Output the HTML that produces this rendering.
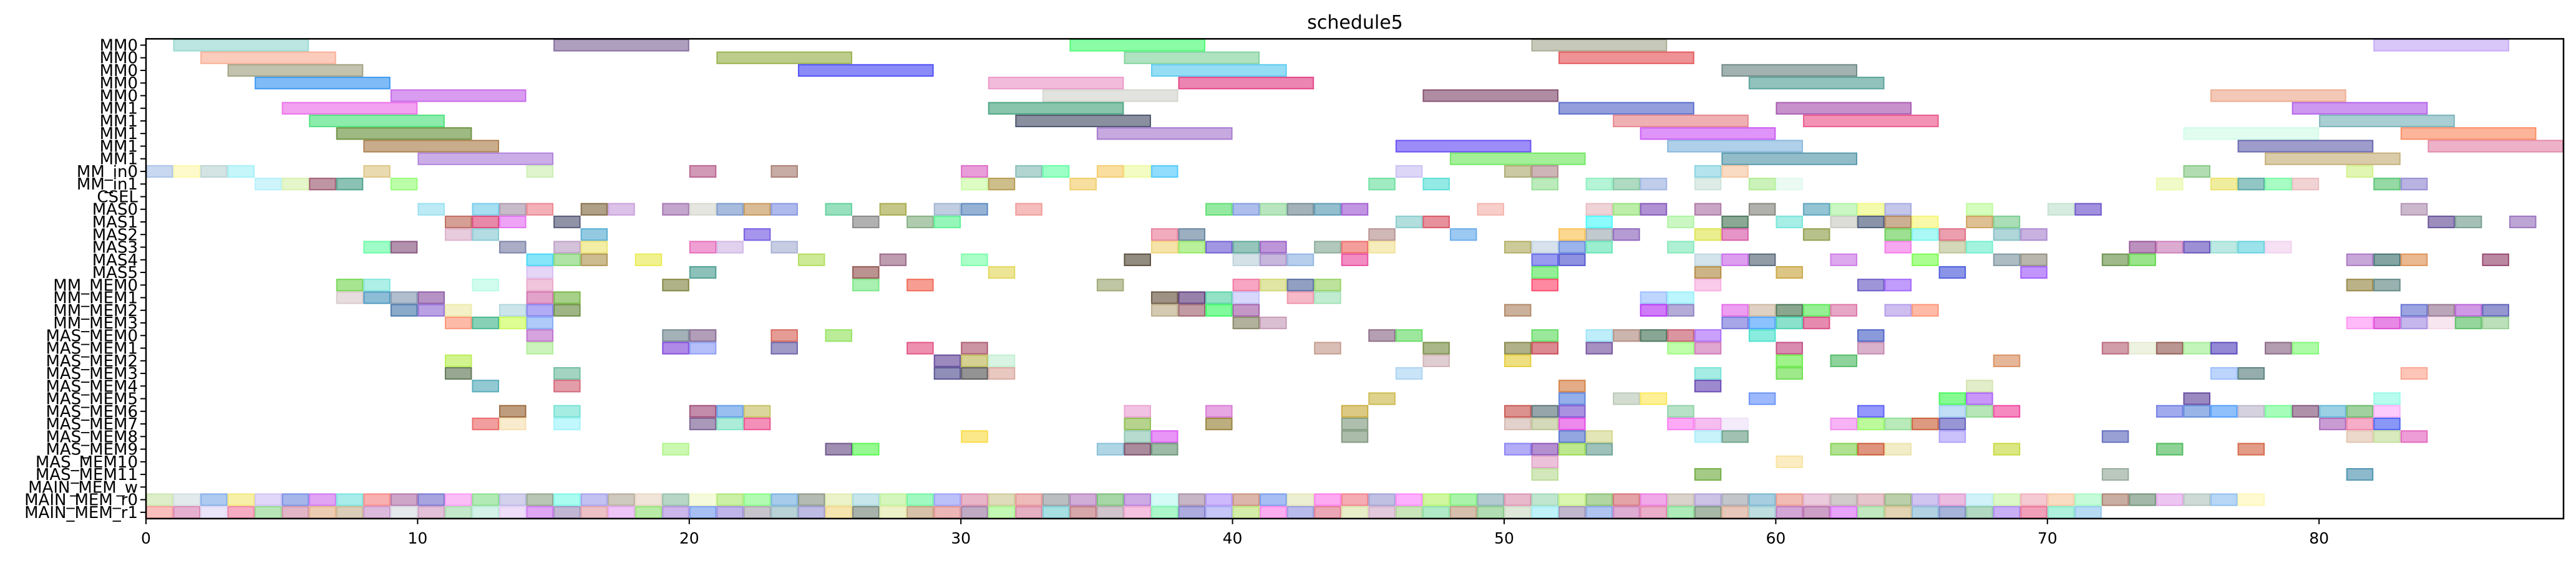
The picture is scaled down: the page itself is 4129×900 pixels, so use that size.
<!DOCTYPE html>
<html><head><meta charset="utf-8"><title>schedule5</title>
<style>html,body{margin:0;padding:0;background:#fff}svg{display:block}</style></head>
<body>
<svg id="chart" xmlns="http://www.w3.org/2000/svg" width="4129" height="900" viewBox="0 0 4129 900" font-family="DejaVu Sans, Liberation Sans, sans-serif">
<rect width="4129" height="900" fill="#fff"/>
<text x="2172" y="46" font-size="30" text-anchor="middle">schedule5</text>
<g id="bars"></g>
<g id="yaxis"></g>
<g id="xaxis"></g>
<rect x="234" y="62.3" width="3875" height="769.7" fill="none" stroke="#000" stroke-width="2.5"/>
</svg>
<script>
const rowLabels = ["MM0","MM0","MM0","MM0","MM0","MM1","MM1","MM1","MM1","MM1","MM_in0","MM_in1","CSEL","MAS0","MAS1","MAS2","MAS3","MAS4","MAS5","MM_MEM0","MM_MEM1","MM_MEM2","MM_MEM3","MAS_MEM0","MAS_MEM1","MAS_MEM2","MAS_MEM3","MAS_MEM4","MAS_MEM5","MAS_MEM6","MAS_MEM7","MAS_MEM8","MAS_MEM9","MAS_MEM10","MAS_MEM11","MAIN_MEM_w","MAIN_MEM_r0","MAIN_MEM_r1"];
const xTicks = [0,10,20,30,40,50,60,70,80];
const xMax = 89;
// long tasks: [row, start, end, color]
const longTasks = [
[0,1,6,'#8fd6cf'],[0,15,20,'#7a5f94'],[0,34,39,'#3dfb6b'],[0,51,56,'#a0a48a'],[0,82,87,'#c1a2f5'],
[1,2,7,'#f9a98e'],[1,21,26,'#8fab3e'],[1,36,41,'#79cf96'],[1,52,57,'#e24a4f'],
[2,3,8,'#9a9a78'],[2,24,29,'#3d3ef4'],[2,37,42,'#4fc7ef'],[2,58,63,'#637f7b'],
[3,4,9,'#2a8ef0'],[3,31,36,'#e98ec3'],[3,38,43,'#e0337d'],[3,59,64,'#4a9a90'],
[4,9,14,'#c25ae8'],[4,33,38,'#cfd0c8'],[4,47,52,'#7a3f64'],[4,76,81,'#eba386'],
[5,5,10,'#ea63e6'],[5,31,36,'#3a9d77'],[5,52,57,'#4b5fc5'],[5,60,65,'#a14aaa'],[5,79,84,'#ac53e6'],
[6,6,11,'#3fe073'],[6,32,37,'#3b445f'],[6,54,59,'#e57b82'],[6,61,66,'#e94a83'],[6,80,85,'#6fadb5'],
[7,7,12,'#5f8a30'],[7,35,40,'#9f6fca'],[7,55,60,'#c84cf3'],[7,75,80,'#cdfbe6'],[7,83,88,'#fa8356'],
[8,8,13,'#a57440'],[8,46,51,'#5a3ff4'],[8,56,61,'#7cb0db'],[8,77,82,'#5c5aa8'],[8,84,89,'#e17ea3'],
[9,10,15,'#a977d9'],[9,48,53,'#65e655'],[9,58,63,'#4a8fa3'],[9,78,83,'#c1a970']
];
// unit tasks per row: [start, color], duration 1
const unitRows = {
10:[[0,'#a3bee6'],[1,'#fff7a8'],[2,'#b6d0d0'],[3,'#9ef0f7'],[8,'#dbc27a'],[14,'#c9ecab'],[20,'#b45586'],[23,'#a27369'],[30,'#d95cbf'],[32,'#7bb8b1'],[33,'#5affa0'],[35,'#f5c860'],[36,'#ebfa9b'],[37,'#45c4fb'],[46,'#c7baf2'],[50,'#a6a566'],[51,'#ab8386'],[57,'#80d0e0'],[58,'#f5c299'],[75,'#7dc47d'],[81,'#cdf080']],
11:[[4,'#adeefa'],[5,'#d6f0a8'],[6,'#964e66'],[7,'#3f9a80'],[9,'#8fff6f'],[30,'#c6fb9e'],[31,'#ad9340'],[34,'#f0c95f'],[45,'#62dd99'],[47,'#4ddcd4'],[51,'#8edd8e'],[53,'#84edba'],[54,'#7ac39a'],[55,'#96aee0'],[57,'#c8e0d8'],[59,'#a9eb8a'],[60,'#ddf8ec'],[74,'#e8f9a5'],[76,'#e8e15f'],[77,'#4aa09e'],[78,'#6cfb9c'],[79,'#e7b5b7'],[82,'#4ebf68'],[83,'#8b80cf']],
13:[[10,'#90ddef'],[12,'#6bc8ea'],[13,'#a48ea5'],[14,'#eb7b87'],[16,'#7a6138'],[17,'#c497d9'],[19,'#9c6aab'],[20,'#d3d6cb'],[21,'#6d8fc7'],[22,'#c08f4e'],[23,'#7a8ce0'],[25,'#55cc94'],[27,'#9fa239'],[29,'#98aece'],[30,'#4e7eb9'],[32,'#ee918e'],[39,'#4fdc63'],[40,'#7792df'],[41,'#8ad695'],[42,'#667e8b'],[43,'#4b92ae'],[44,'#9a4fd0'],[49,'#f4ada6'],[53,'#e5b5bc'],[54,'#8fe170'],[55,'#7a49b5'],[57,'#a56b9e'],[59,'#7c7c74'],[61,'#4a9db5'],[62,'#a8f29d'],[63,'#eef875'],[64,'#9ca0dc'],[67,'#b9fc92'],[70,'#bde0cc'],[71,'#6246c7'],[83,'#a988ab']],
14:[[11,'#ba5f50'],[12,'#d83a71'],[13,'#e366f2'],[15,'#464a6b'],[26,'#7d7d7d'],[28,'#7aa878'],[29,'#4ef08a'],[46,'#7fc8c8'],[47,'#d6475a'],[53,'#3ff8fb'],[56,'#a8f29b'],[58,'#3c6e4c'],[60,'#6be3d6'],[62,'#c5c6bb'],[63,'#3c4d70'],[64,'#aa7b4c'],[65,'#f5f570'],[67,'#c9964c'],[68,'#6fc886'],[84,'#5a4290'],[85,'#6b9688'],[87,'#8f68b7']],
15:[[11,'#d8a9c6'],[12,'#80c7d0'],[16,'#4ba7cf'],[22,'#6b4fe0'],[37,'#e87592'],[38,'#5a7a96'],[45,'#b18887'],[48,'#5aa5e8'],[52,'#f9bc45'],[53,'#97a7ad'],[54,'#8459b5'],[57,'#dce344'],[58,'#d54fa3'],[61,'#87983d'],[64,'#5bcb48'],[65,'#72f5f0'],[66,'#dd5f78'],[68,'#7bbbc0'],[69,'#a57fcb']],
16:[[8,'#5dfca0'],[9,'#7e4776'],[13,'#7177a0'],[15,'#b798c2'],[16,'#ebe369'],[20,'#e45fb5'],[21,'#cdb0e2'],[23,'#a0aacf'],[37,'#efd070'],[38,'#8be656'],[39,'#6350cf'],[40,'#4f9e8d'],[41,'#9150c0'],[43,'#7fa38f'],[44,'#ec5d5a'],[45,'#f0e090'],[50,'#aba656'],[51,'#bccfe0'],[52,'#5a80dd'],[53,'#59e3b1'],[56,'#78e6b4'],[64,'#f26ee6'],[66,'#b8be8c'],[67,'#65ecca'],[73,'#904891'],[74,'#c673b4'],[75,'#5a45b6'],[76,'#8fdad1'],[77,'#59cfdc'],[78,'#f0cced']],
17:[[14,'#35d3f5'],[15,'#79d26a'],[16,'#a98d45'],[18,'#e7ea45'],[24,'#abdc50'],[27,'#915b7a'],[30,'#6fffa1'],[36,'#4a3f2b'],[40,'#b7cfd9'],[41,'#a287c6'],[42,'#87aee0'],[44,'#e9409a'],[51,'#5459e5'],[52,'#4549cc'],[57,'#b8d2e0'],[58,'#c65ee6'],[59,'#4a5a6d'],[62,'#c86ee4'],[65,'#72fd44'],[68,'#778e9b'],[69,'#888676'],[72,'#5f8a3e'],[73,'#56d33f'],[81,'#a26bbe'],[82,'#326866'],[83,'#da8848'],[86,'#8d3863']],
18:[[14,'#d4b9f0'],[20,'#40978a'],[26,'#8c4a46'],[31,'#e1d450'],[51,'#4fe552'],[57,'#ac8235'],[60,'#c7a034'],[66,'#3e4fd9'],[69,'#9a4ffb']],
19:[[7,'#6cd448'],[8,'#78e4d8'],[12,'#b2fbe3'],[14,'#e8a0c6'],[19,'#7a7d36'],[26,'#6fe67d'],[28,'#f05d4a'],[35,'#95a066'],[40,'#f06a9a'],[41,'#cdd569'],[42,'#47609a'],[43,'#8fcf5a'],[51,'#ff3b63'],[57,'#f7a8dc'],[63,'#5d4fc0'],[64,'#9a5afb'],[81,'#8d7e37'],[82,'#557f7a']],
20:[[7,'#d7c4c8'],[8,'#408fbb'],[9,'#7c93ad'],[10,'#844c9e'],[14,'#cf66a8'],[15,'#6cb038'],[37,'#5d4a34'],[38,'#532e73'],[39,'#4bcea0'],[40,'#bcbef8'],[42,'#ef8aa2'],[43,'#9adfb2'],[55,'#93b9fb'],[56,'#8eeefc']],
21:[[9,'#3d70a5'],[10,'#8a62d2'],[11,'#ede7a1'],[13,'#a9d4dc'],[14,'#7b74ef'],[15,'#5f8435'],[37,'#b7a77f'],[38,'#985a68'],[39,'#2cf757'],[40,'#9c55a3'],[50,'#a97d58'],[55,'#b125f3'],[56,'#8275bc'],[58,'#e25ee6'],[59,'#c8b09a'],[60,'#3d6b45'],[61,'#4ee64b'],[62,'#d96aa0'],[64,'#ad92e6'],[65,'#ff8c6c'],[83,'#5966cc'],[84,'#8e6a8a'],[85,'#b055d5'],[86,'#4d52b0']],
22:[[11,'#fa8c6c'],[12,'#37b387'],[13,'#c8fb4b'],[14,'#7aa7f5'],[40,'#7d7d5a'],[41,'#c292b2'],[58,'#6a6ad9'],[59,'#3d9afc'],[60,'#3ccfa8'],[61,'#d53d7a'],[81,'#ff8cf5'],[82,'#d93bd3'],[83,'#9f85e0'],[84,'#f2d5e6'],[85,'#4cbb58'],[86,'#8fcb8a']],
23:[[14,'#b966c8'],[19,'#677f89'],[20,'#7e5d89'],[23,'#d45a4e'],[25,'#8de154'],[45,'#835f7e'],[46,'#5bd95b'],[51,'#56d856'],[53,'#93e2f7'],[54,'#aa8378'],[55,'#3b6a4f'],[56,'#c14f63'],[57,'#a560f8'],[59,'#3ae0c8'],[63,'#3d56c2']],
24:[[14,'#aaeb8f'],[19,'#7a3dd9'],[20,'#8294f5'],[23,'#5f56a0'],[28,'#e14679'],[30,'#a74d66'],[43,'#bf9386'],[47,'#6f8738'],[50,'#7b7b3a'],[51,'#c53c4a'],[53,'#6a4597'],[56,'#94fe72'],[57,'#cb6db2'],[60,'#c03f7a'],[63,'#c07da8'],[72,'#b35c70'],[73,'#e2e9cc'],[74,'#8a5048'],[75,'#9bec8c'],[76,'#4d3ab8'],[78,'#805a7a'],[79,'#76f96a']],
25:[[11,'#b4ed46'],[29,'#5a3c94'],[30,'#b9b34a'],[31,'#bdeecf'],[47,'#ccacb2'],[50,'#e3c92c'],[60,'#5eeb3b'],[62,'#45b55a'],[68,'#d58654']],
26:[[11,'#536d4a'],[15,'#66b899'],[29,'#48448a'],[30,'#4b4b4b'],[31,'#d9a398'],[46,'#a5d0f2'],[57,'#68e0d2'],[60,'#5edc3e'],[76,'#91b8fb'],[77,'#4e7676'],[83,'#fa9e88']],
27:[[12,'#4aa5b5'],[15,'#d05b6e'],[52,'#d07535'],[57,'#5c3aae'],[67,'#cfe1a6']],
28:[[45,'#c8b440'],[52,'#4d79dc'],[54,'#b6c4b0'],[55,'#fde64e'],[59,'#5c8af9'],[66,'#33f847'],[67,'#a352f4'],[75,'#573a96'],[82,'#89fae4']],
29:[[13,'#925b2a'],[15,'#69e1d1'],[20,'#973e6f'],[21,'#5394e6'],[22,'#c3bb5a'],[36,'#e89ace'],[39,'#d66cd0'],[44,'#c4a630'],[50,'#c54a44'],[51,'#4e6970'],[52,'#7349cd'],[56,'#87cfa1'],[63,'#4c51f8'],[66,'#97c6f0'],[67,'#87d68a'],[68,'#ef3a96'],[74,'#6472e3'],[75,'#5584d8'],[76,'#4496fa'],[77,'#b9b3c8'],[78,'#6afb8c'],[79,'#7a4a72'],[80,'#59b1d4'],[81,'#62b35f'],[82,'#fca8fa']],
30:[[12,'#ea5e5e'],[13,'#f5ddac'],[15,'#98f3fc'],[20,'#70548a'],[21,'#74e0be'],[22,'#ec4489'],[36,'#85b641'],[39,'#90782a'],[44,'#7a9476'],[50,'#d1b2a8'],[51,'#b5c08a'],[52,'#e33ae3'],[56,'#fa70f0'],[57,'#ee91e6'],[58,'#ede0f8'],[62,'#f180ef'],[63,'#8ff75a'],[64,'#8bdc8c'],[65,'#c7562d'],[66,'#5350b8'],[80,'#a35ab6'],[81,'#f177a3'],[82,'#3b52f1']],
31:[[30,'#f9d938'],[36,'#87c3ae'],[37,'#d84ef2'],[44,'#748f73'],[52,'#4b6bcc'],[53,'#d0d585'],[57,'#a3ebf8'],[58,'#62997e'],[66,'#a898f8'],[72,'#5560b8'],[81,'#e0c0aa'],[82,'#bfdc95'],[83,'#e25bbb']],
32:[[19,'#a9f57f'],[25,'#60457e'],[26,'#4ef645'],[35,'#7cbad6'],[36,'#6f3e5a'],[37,'#5b8c6a'],[50,'#7e76f1'],[51,'#8144b0'],[52,'#92d843'],[53,'#5e9a8a'],[62,'#7ccf48'],[63,'#c84d27'],[64,'#eae0a2'],[68,'#c3d730'],[74,'#3fb54e'],[77,'#cf5a38']],
33:[[51,'#e09ac2'],[60,'#f8e09a']],
34:[[51,'#b4d98e'],[57,'#67a635'],[72,'#8da493'],[81,'#3f8ba8']]
};
// continuous rows: consecutive unit slots starting at 0
const r0Colors = ['#c6e3a4','#d0dce0','#78a6e8','#f2e66e','#cbbcf5','#6a85dd','#cd67ef','#6edfdb','#f47b7b','#ad6ba3','#6d68cc','#f992f2','#7edc83','#b5b2e0','#8a9e83','#71f8e6','#9b98ea','#aea593','#e8d2bf','#88baa0','#f0f7c4','#a8e66a','#7cfa7d','#6da9dc','#818e7e','#dfeba7','#a0d6dd','#b9f08f','#62f59a','#9197f5','#d983a4','#c8c58c','#e38b8a','#8d9397','#b076bb','#6bba6a','#ad72d3','#b8f8ee','#a285a0','#ab8af8','#c58571','#6a93ec','#e1e4b4','#fc71ea','#ee7480','#9697cf','#fb7bfb','#b3f263','#72ec72','#81a9b1','#d989a8','#97d6b0','#c1f07d','#7fbb63','#d0656d','#e96fdc','#c1b5a8','#a99ad6','#9a9ea6','#6aaecc','#e78f82','#dca6c5','#b4a9a9','#d59faa','#8daf73','#b09ee8','#dd90cc','#b4eaf5','#c6f3a4','#eea6b4','#f6c59a','#9ef9c0','#a47766','#66896f','#e09ee6','#aec1ba','#87baf0','#fff6b0'];
const r1Colors = ['#f5948f','#d67db0','#dcd3f3','#f0779b','#8ad58a','#cf86a1','#e1ab7f','#c3ad88','#c58cc8','#d5dae0','#cf98c0','#9dd9a6','#b7e9d9','#e2c8f5','#c96aed','#9787b9','#e09aa2','#e39ef1','#8be06a','#ac85da','#6b96ec','#9683da','#a49ca8','#8cb5be','#938fcf','#f0d47a','#6e7f72','#e2eaa5','#bd9970','#e08585','#966f9b','#9bf57f','#d57a9a','#6cc9cf','#b96a72','#b19eab','#f09ace','#74f2a6','#7873c8','#a0a1f1','#b7e36f','#fb78e7','#8b8fdc','#df6d86','#d9e2a4','#d1a6c6','#a8d48e','#7ddca0','#bd9578','#7bc67e','#c9d8c0','#95ebf5','#9a89ad','#7b9ce6','#ca75b6','#de78a3','#78dd8a','#6e8a6e','#d8a38c','#95c8cc','#b76bba','#ae61a1','#d866f6','#98d894','#cfb880','#7fb4d2','#6e80c2','#7fc09a','#a57af0','#e6628a','#7ae8c4','#89c3ec'];

const NS = 'http://www.w3.org/2000/svg';
const X0 = 234, X1 = 4109, Y0 = 62.3, Y1 = 832;
const rowH = (Y1 - Y0) / rowLabels.length;
function xScale(t){ return X0 + t * (X1 - X0) / xMax; }
function yScale(r){ return Y0 + r * rowH; }

const barsG = document.getElementById('bars');
function addBar(row, s, e, color){
  const r = document.createElementNS(NS,'rect');
  r.setAttribute('x', xScale(s)+1);
  r.setAttribute('y', yScale(row)+1);
  r.setAttribute('width', xScale(e)-xScale(s)-2);
  r.setAttribute('height', rowH-2);
  r.setAttribute('fill', color);
  r.setAttribute('fill-opacity', '0.6');
  r.setAttribute('stroke', color);
  r.setAttribute('stroke-opacity', '0.85');
  r.setAttribute('stroke-width', '2');
  
  
  barsG.appendChild(r);
}
longTasks.forEach(t => addBar(t[0], t[1], t[2], t[3]));
Object.keys(unitRows).forEach(k => unitRows[k].forEach(u => addBar(+k, u[0], u[0]+1, u[1])));
r0Colors.forEach((c,i) => addBar(36, i, i+1, c));
r1Colors.forEach((c,i) => addBar(37, i, i+1, c));

const yG = document.getElementById('yaxis');
rowLabels.forEach((lab, i) => {
  const yc = yScale(i) + rowH/2;
  const tk = document.createElementNS(NS,'line');
  tk.setAttribute('x1', X0-9); tk.setAttribute('x2', X0);
  tk.setAttribute('y1', yc); tk.setAttribute('y2', yc);
  tk.setAttribute('stroke', '#000'); tk.setAttribute('stroke-width', '2');
  
  
  yG.appendChild(tk);
  const tx = document.createElementNS(NS,'text');
  tx.setAttribute('x', X0-13); tx.setAttribute('y', yc+9);
  tx.setAttribute('text-anchor', 'end'); tx.setAttribute('font-size', '26');
  tx.textContent = lab;
  
  
  yG.appendChild(tx);
});
const xG = document.getElementById('xaxis');
xTicks.forEach(v => {
  const x = xScale(v);
  const tk = document.createElementNS(NS,'line');
  tk.setAttribute('x1', x); tk.setAttribute('x2', x);
  tk.setAttribute('y1', Y1); tk.setAttribute('y2', Y1+9);
  tk.setAttribute('stroke', '#000'); tk.setAttribute('stroke-width', '2');
  
  
  xG.appendChild(tk);
  const tx = document.createElementNS(NS,'text');
  tx.setAttribute('x', x); tx.setAttribute('y', Y1+40);
  tx.setAttribute('text-anchor', 'middle'); tx.setAttribute('font-size', '25');
  tx.textContent = v;
  
  
  xG.appendChild(tx);
});
</script>
</body></html>
